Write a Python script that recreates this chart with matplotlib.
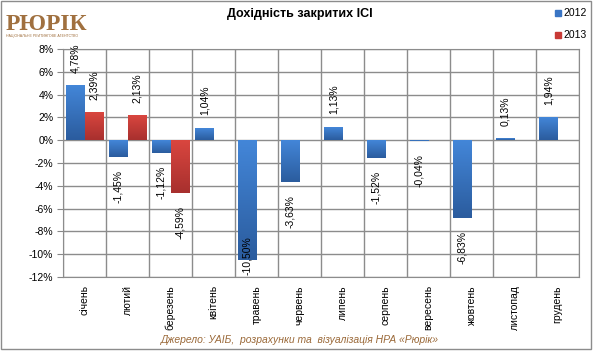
import numpy as np
import matplotlib.pyplot as plt
from matplotlib.patches import Rectangle

# Дані
months = ['січень', 'лютий', 'березень', 'квітень', 'травень', 'червень',
          'липень', 'серпень', 'вересень', 'жовтень', 'листопад', 'грудень']
y2012 = [4.78, -1.45, -1.12, 1.04, -10.50, -3.63, 1.13, -1.52, -0.04, -6.83, 0.13, 1.94]
y2013 = [2.39, 2.13, -4.59]
yticks = [8, 6, 4, 2, 0, -2, -4, -6, -8, -10, -12]

plt.rcParams['font.family'] = ['Liberation Sans', 'DejaVu Sans']

fig = plt.figure(figsize=(5.95, 3.61), dpi=100)
ax = fig.add_axes([63 / 595, 1 - 277 / 361, 516 / 595, 228 / 361])

w = 0.43
x = np.arange(len(months))
b1 = ax.bar(x - w / 2, y2012, width=w, color='none', zorder=3)
b2 = ax.bar(np.arange(len(y2013)) + w / 2, y2013, width=w, color='none', zorder=3)

# градієнтна заливка стовпців
def fill_grad(bars, top, bottom):
    cm = plt.matplotlib.colors.LinearSegmentedColormap.from_list('g', [bottom, top])
    grad = np.linspace(0, 1, 50).reshape(-1, 1)
    for b in bars:
        x0, y0 = b.get_x(), b.get_y()
        h = b.get_height()
        lo, hi = min(y0, y0 + h), max(y0, y0 + h)
        ax.imshow(grad, extent=(x0, x0 + b.get_width(), lo, hi), origin='lower',
                  cmap=cm, aspect='auto', zorder=3)

fill_grad(b1, '#4386d8', '#2b5c9e')
fill_grad(b2, '#d9463f', '#a8302e')

def labels(xs, vals):
    for xi, v in zip(xs, vals):
        txt = ('%.2f%%' % v).replace('.', ',')
        if v >= 0:
            ax.annotate(txt, (xi, v), xytext=(0, 9.5), textcoords='offset points',
                        rotation=90, ha='center', va='bottom', fontsize=7.5, zorder=5)
        elif v < -9:
            # підпис не вміщується під стовпцем - ставимо біля нижнього краю
            ax.annotate(txt, (xi, -12), xytext=(0, 1.5), textcoords='offset points',
                        rotation=90, ha='center', va='bottom', fontsize=7.5, zorder=5)
        else:
            ax.annotate(txt, (xi, v), xytext=(0, -9.5), textcoords='offset points',
                        rotation=90, ha='center', va='top', fontsize=7.5, zorder=5)

labels(x - w / 2, y2012)
labels(np.arange(len(y2013)) + w / 2, y2013)

ax.set_xlim(-0.5, 11.5)
ax.set_ylim(-12, 8)
ax.set_yticks(yticks)
ax.set_yticklabels(['%d%%' % t for t in yticks], fontsize=7.5)
ax.set_xticks(x)
ax.set_xticklabels(months, rotation=90, fontsize=7.5, va='top')
ax.tick_params(axis='x', length=0, pad=6)
ax.tick_params(axis='y', length=4, color='#888888', pad=3)
ax.set_xticks(np.arange(-0.5, 12, 1), minor=True)
ax.tick_params(axis='x', which='minor', length=0)
ax.grid(True, which='major', axis='y', color='#8c8c8c', lw=1, zorder=0)
ax.grid(True, which='minor', axis='x', color='#8c8c8c', lw=1, zorder=0)
for s in ax.spines.values():
    s.set_color('#8c8c8c')

fig.text(300 / 595, 1 - 14 / 361, 'Дохідність закритих ІСІ', ha='center', va='center',
         fontsize=9, fontweight='bold')

# легенда
for i, (c, lab) in enumerate([('#3a75c4', '2012'), ('#c83a36', '2013')]):
    yy = 1 - (13 + 22 * i) / 361
    fig.patches.append(Rectangle((555 / 595, yy - 3 / 361), 6 / 595, 6 / 361,
                                 transform=fig.transFigure, color=c))
    fig.text(563 / 595, yy, lab, ha='left', va='center', fontsize=7.5)

# логотип
fig.text(6 / 595, 1 - 24 / 361, 'РЮРІК', ha='left', va='center', fontsize=17,
         fontweight='bold', family='Liberation Serif', color='#a0703f')
fig.text(6 / 595, 1 - 36 / 361, 'НАЦІОНАЛЬНЕ РЕЙТИНГОВЕ АГЕНТСТВО', ha='left', va='center',
         fontsize=2.6, color='#a0703f')

fig.text(300 / 595, 1 - 340 / 361, 'Джерело: УАІБ,  розрахунки та  візуалізація НРА «Рюрік»',
         ha='center', va='center', fontsize=7.5, style='italic', color='#9b6a3a')

fig.patches.append(Rectangle((1 / 595, 1 - 349 / 361), 590 / 595, 348 / 361,
                             transform=fig.transFigure, fill=False, edgecolor='#8c8c8c', lw=1))

fig.savefig('out.png', dpi=100)
